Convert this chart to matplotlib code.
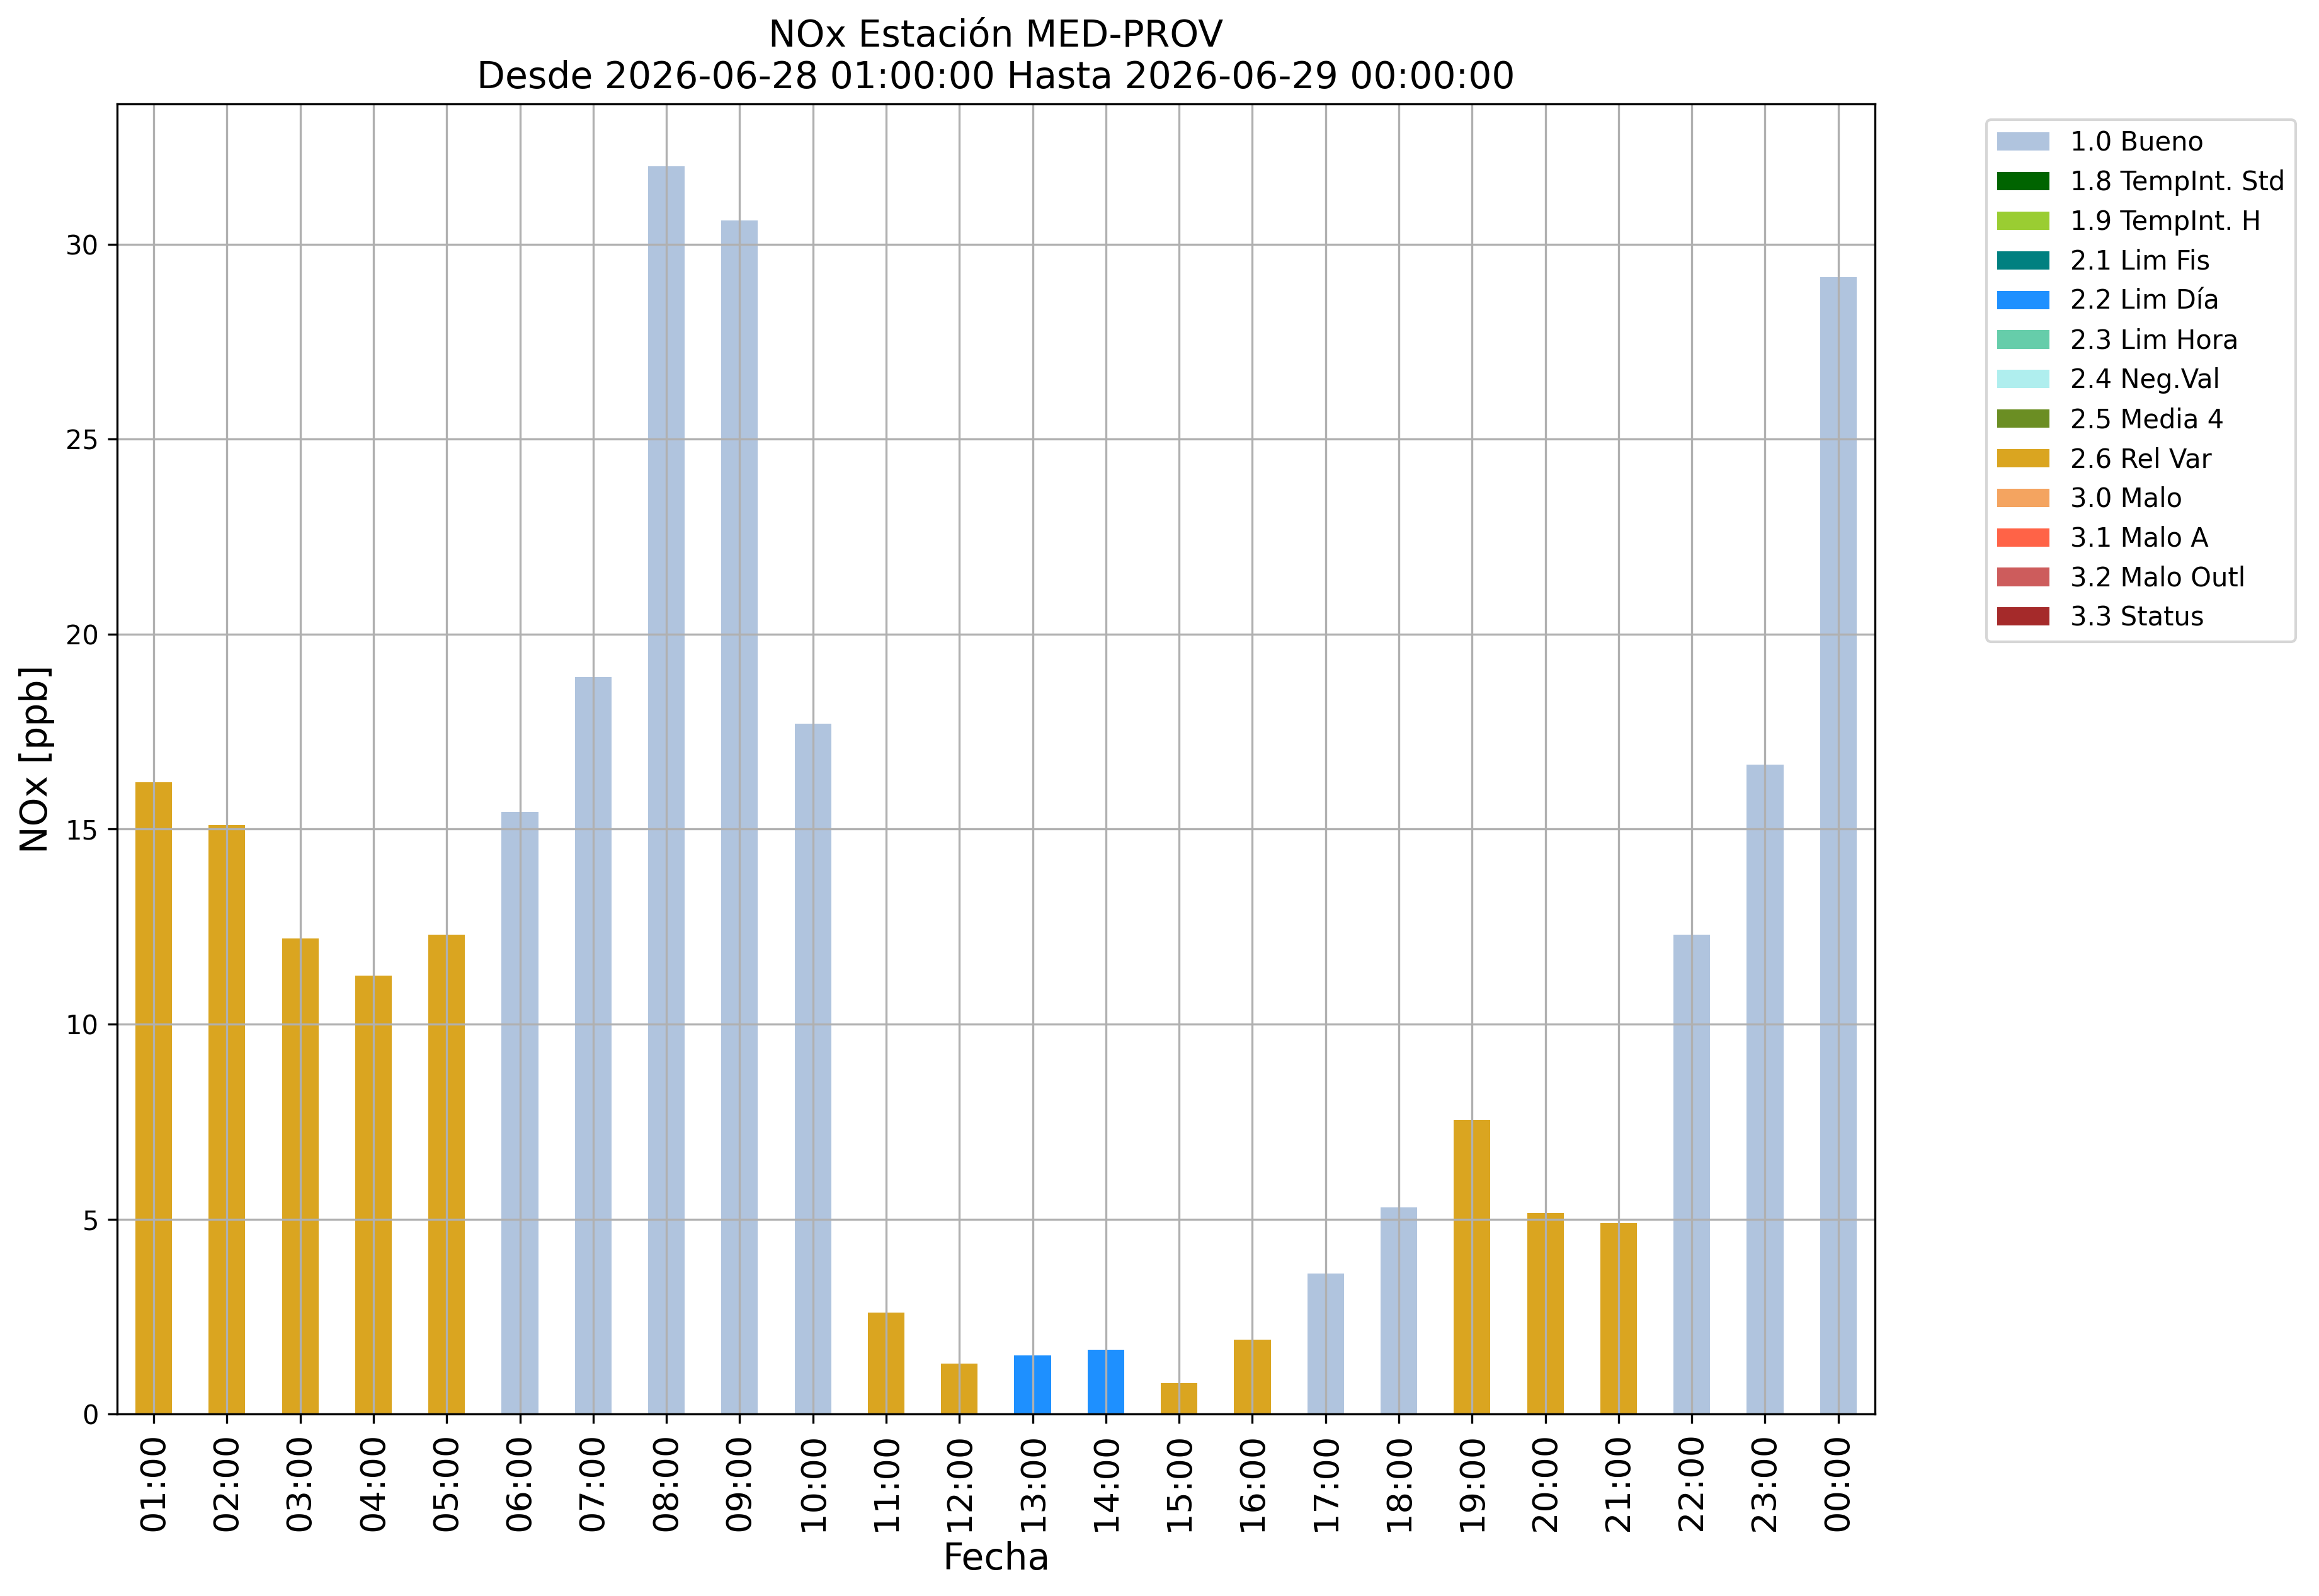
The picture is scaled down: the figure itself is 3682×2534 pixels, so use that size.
import matplotlib
matplotlib.use('Agg')
import matplotlib.pyplot as plt
import pandas as pd

# horas del periodo
horas = ['01:00', '02:00', '03:00', '04:00', '05:00', '06:00', '07:00', '08:00',
         '09:00', '10:00', '11:00', '12:00', '13:00', '14:00', '15:00', '16:00',
         '17:00', '18:00', '19:00', '20:00', '21:00', '22:00', '23:00', '00:00']

nox = [16.2, 15.1, 12.2, 11.25, 12.3, 15.45, 18.9, 32.0,
       30.6, 17.7, 2.6, 1.3, 1.5, 1.65, 0.8, 1.9,
       3.6, 5.3, 7.55, 5.15, 4.9, 12.3, 16.65, 29.15]

# flag de validacion de cada hora
flags = ['2.6 Rel Var', '2.6 Rel Var', '2.6 Rel Var', '2.6 Rel Var', '2.6 Rel Var',
         '1.0 Bueno', '1.0 Bueno', '1.0 Bueno', '1.0 Bueno', '1.0 Bueno',
         '2.6 Rel Var', '2.6 Rel Var', '2.2 Lim Día', '2.2 Lim Día', '2.6 Rel Var',
         '2.6 Rel Var', '1.0 Bueno', '1.0 Bueno', '2.6 Rel Var', '2.6 Rel Var',
         '2.6 Rel Var', '1.0 Bueno', '1.0 Bueno', '1.0 Bueno']

categorias = ['1.0 Bueno', '1.8 TempInt. Std', '1.9 TempInt. H', '2.1 Lim Fis',
              '2.2 Lim Día', '2.3 Lim Hora', '2.4 Neg.Val', '2.5 Media 4',
              '2.6 Rel Var', '3.0 Malo', '3.1 Malo A', '3.2 Malo Outl', '3.3 Status']

colores = ['lightsteelblue', 'darkgreen', 'yellowgreen', 'teal',
           'dodgerblue', 'mediumaquamarine', 'paleturquoise', 'olivedrab',
           'goldenrod', 'sandybrown', 'tomato', 'indianred', 'brown']

# tabla por categoria (0 donde no aplica)
df = pd.DataFrame(0.0, index=horas, columns=categorias)
for h, v, f in zip(horas, nox, flags):
    df.loc[h, f] = v

fig = plt.figure(figsize=(3682 / 300, 2534 / 300), dpi=300)
ax = fig.add_axes([0.0505, 0.114, 0.758, 0.821])

df.plot.bar(stacked=True, color=colores, ax=ax, width=0.5, legend=False)

ax.set_title('NOx Estación MED-PROV\nDesde 2026-06-28 01:00:00 Hasta 2026-06-29 00:00:00',
             fontsize=14)
ax.set_xlabel('Fecha', fontsize=14)
ax.set_ylabel('NOx [ppb]', fontsize=14)
ax.tick_params(axis='x', labelsize=13, labelrotation=90)
ax.tick_params(axis='y', labelsize=10)
ax.grid(True)
ax.legend(bbox_to_anchor=(1.056, 0.998), loc='upper left', fontsize=10)

fig.savefig('out.png', dpi=300)
